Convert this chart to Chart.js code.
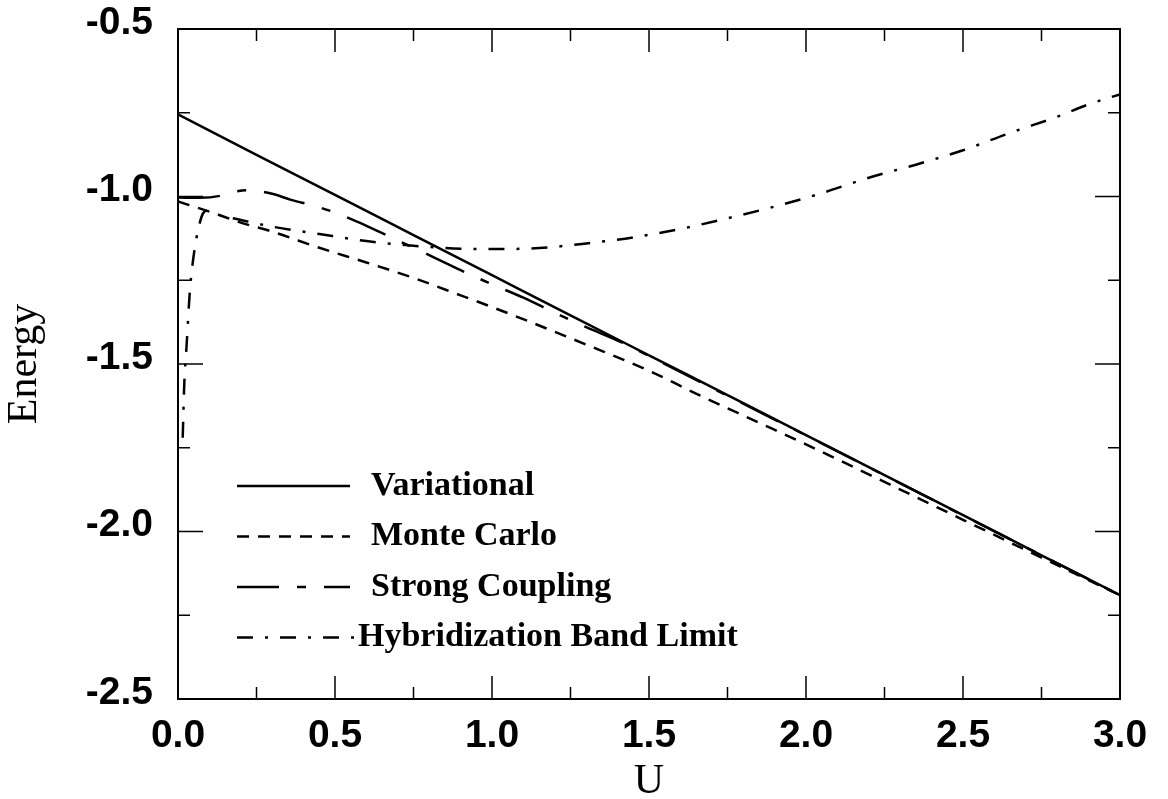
<!DOCTYPE html>
<html>
<head>
<meta charset="utf-8">
<script src="https://cdn.jsdelivr.net/npm/chart.js@4.4.0/dist/chart.umd.min.js"></script>
<style>
  html, body { margin: 0; padding: 0; background: #fff; }
  #contenedor { width: 1168px; height: 799px; }
</style>
</head>
<body>
<div id="contenedor"><canvas id="grafico" width="1168" height="799"></canvas></div>
<script>
// valores (U, Energy)
const uVariacional = [0, 0.25, 0.5, 0.75, 1.0, 1.25, 1.5, 1.75, 2.0, 2.25, 2.5, 2.75, 3.0];
const eVariacional = [-0.755, -0.876, -0.995, -1.115, -1.235, -1.355, -1.474, -1.593, -1.712, -1.832, -1.951, -2.071, -2.19];

const uMonteCarlo = [0, 0.1, 0.2, 0.3, 0.45, 0.6, 0.75, 0.9, 1.0, 1.15, 1.3, 1.5, 1.66, 1.85, 2.0, 2.25, 2.5, 2.75, 3.0];
const eMonteCarlo = [-1.015, -1.045, -1.078, -1.105, -1.153, -1.197, -1.243, -1.295, -1.33, -1.385, -1.442, -1.52, -1.593, -1.675, -1.74, -1.852, -1.965, -2.078, -2.19];

const uStrong = [0, 0.07, 0.134, 0.16, 0.22, 0.3, 0.36, 0.43, 0.5, 0.57, 0.64, 0.72, 0.8, 0.9, 1.0, 1.1, 1.2, 1.3, 1.4, 1.5, 1.75, 2.0, 2.25, 2.5, 2.75, 3.0];
const eStrong = [-1.003, -1.004, -0.998, -0.99, -0.981, -0.992, -1.01, -1.027, -1.048, -1.075, -1.105, -1.14, -1.175, -1.22, -1.262, -1.302, -1.347, -1.39, -1.43, -1.476, -1.595, -1.713, -1.832, -1.952, -2.071, -2.19];

const uHibrid = [0.015, 0.02, 0.027, 0.038, 0.048, 0.064, 0.08, 0.095, 0.13, 0.2, 0.3, 0.45, 0.6, 0.75, 0.9, 1.0, 1.15, 1.3, 1.45, 1.6, 1.75, 1.9, 2.05, 2.2, 2.35, 2.5, 2.65, 2.8, 2.9, 3.0];
const eHibrid = [-1.72, -1.56, -1.45, -1.28, -1.19, -1.10, -1.05, -1.042, -1.055, -1.07, -1.09, -1.112, -1.133, -1.147, -1.156, -1.157, -1.154, -1.14, -1.122, -1.097, -1.065, -1.03, -0.99, -0.944, -0.905, -0.862, -0.81, -0.762, -0.725, -0.695];

const nombresSeries = ['Variational', 'Monte Carlo', 'Strong Coupling', 'Hybridization Band Limit'];
const ticksX = [0, 0.5, 1.0, 1.5, 2.0, 2.5, 3.0];
const ticksY = [-2.5, -2.0, -1.5, -1.0, -0.5];

function puntos(us, es) {
  return us.map((u, i) => ({ x: u, y: es[i] }));
}

// marco con marcas hacia dentro (mayores cada 0.5, menores cada 0.25)
const marcoConMarcas = {
  id: 'marcoConMarcas',
  afterDraw(chart) {
    const { ctx, chartArea: a, scales: { x, y } } = chart;
    ctx.save();
    ctx.strokeStyle = '#000';
    ctx.lineWidth = 2;
    ctx.strokeRect(a.left, a.top, a.right - a.left, a.bottom - a.top);
    ctx.lineWidth = 1.5;
    const linea = (x1, y1, x2, y2) => { ctx.beginPath(); ctx.moveTo(x1, y1); ctx.lineTo(x2, y2); ctx.stroke(); };
    for (let k = 0; k <= 12; k++) {
      const v = x.min + k * 0.25;
      const px = x.getPixelForValue(v);
      const largo = k % 2 === 0 ? 23 : 12;
      linea(px, a.bottom, px, a.bottom - largo);
      linea(px, a.top, px, a.top + largo);
    }
    for (let k = 0; k <= 8; k++) {
      const v = y.min + k * 0.25;
      const py = y.getPixelForValue(v);
      const largo = k % 2 === 0 ? 25 : 12;
      linea(a.left, py, a.left + largo, py);
      linea(a.right, py, a.right - largo, py);
    }
    ctx.restore();
  }
};

// leyenda dentro del area del grafico
const leyendaInterna = {
  id: 'leyendaInterna',
  afterDraw(chart) {
    const { ctx } = chart;
    ctx.save();
    ctx.font = 'bold 34px "Liberation Serif", "Times New Roman", serif';
    ctx.fillStyle = '#000';
    ctx.textBaseline = 'middle';
    chart.data.datasets.forEach((ds, i) => {
      const yy = 486 + i * 50.5;
      ctx.strokeStyle = '#000';
      ctx.lineWidth = 2.5;
      ctx.setLineDash(ds.borderDash || []);
      ctx.beginPath();
      ctx.moveTo(237, yy);
      ctx.lineTo(i === 3 ? 357 : 350, yy);
      ctx.stroke();
      ctx.setLineDash([]);
      ctx.fillText(ds.label, i === 3 ? 358 : 371, yy);
    });
    ctx.restore();
  }
};

const fuenteTicks = { family: '"Liberation Sans", Arial, sans-serif', size: 39, weight: 'bold' };
const fuenteTitulo = { family: '"Liberation Serif", "Times New Roman", serif', size: 42, lineHeight: 1.0 };

const canvas = document.getElementById('grafico');
new Chart(canvas, {
  type: 'line',
  data: {
    datasets: [
      { label: nombresSeries[0], data: puntos(uVariacional, eVariacional), borderDash: [] },
      { label: nombresSeries[1], data: puntos(uMonteCarlo, eMonteCarlo), borderDash: [12, 9] },
      { label: nombresSeries[2], data: puntos(uStrong, eStrong), borderDash: [42, 18, 9, 18] },
      { label: nombresSeries[3], data: puntos(uHibrid, eHibrid), borderDash: [16, 12, 3, 12] }
    ].map(ds => Object.assign(ds, {
      borderColor: '#000',
      borderWidth: 2.5,
      pointRadius: 0,
      fill: false,
      cubicInterpolationMode: 'monotone'
    }))
  },
  options: {
    responsive: false,
    animation: false,
    devicePixelRatio: 1,
    layout: { padding: { left: 0, right: 48, top: 29, bottom: 0 } },
    plugins: { legend: { display: false }, tooltip: { enabled: false } },
    scales: {
      x: {
        type: 'linear',
        min: 0, max: 3,
        afterBuildTicks: s => { s.ticks = ticksX.map(v => ({ value: v })); },
        afterFit: s => { s.height = 100; s.paddingLeft = 0; s.paddingRight = 0; },
        grid: { display: false, drawTicks: false },
        border: { display: false },
        ticks: { font: fuenteTicks, color: '#000', padding: 14, maxRotation: 0, callback: v => v.toFixed(1) },
        title: { display: true, text: 'U', font: fuenteTitulo, color: '#000', padding: { top: 0, bottom: -4 } }
      },
      y: {
        type: 'linear',
        min: -2.5, max: -0.5,
        afterBuildTicks: s => { s.ticks = ticksY.map(v => ({ value: v })); },
        afterFit: s => { s.width = 178; s.paddingTop = 0; s.paddingBottom = 0; },
        grid: { display: false, drawTicks: false },
        border: { display: false },
        ticks: { font: fuenteTicks, color: '#000', padding: 25, labelOffset: -6, callback: v => v.toFixed(1) },
        title: { display: true, text: 'Energy', font: fuenteTitulo, color: '#000', padding: { top: 4, bottom: 0 } }
      }
    }
  },
  plugins: [marcoConMarcas, leyendaInterna]
});
</script>
</body>
</html>
